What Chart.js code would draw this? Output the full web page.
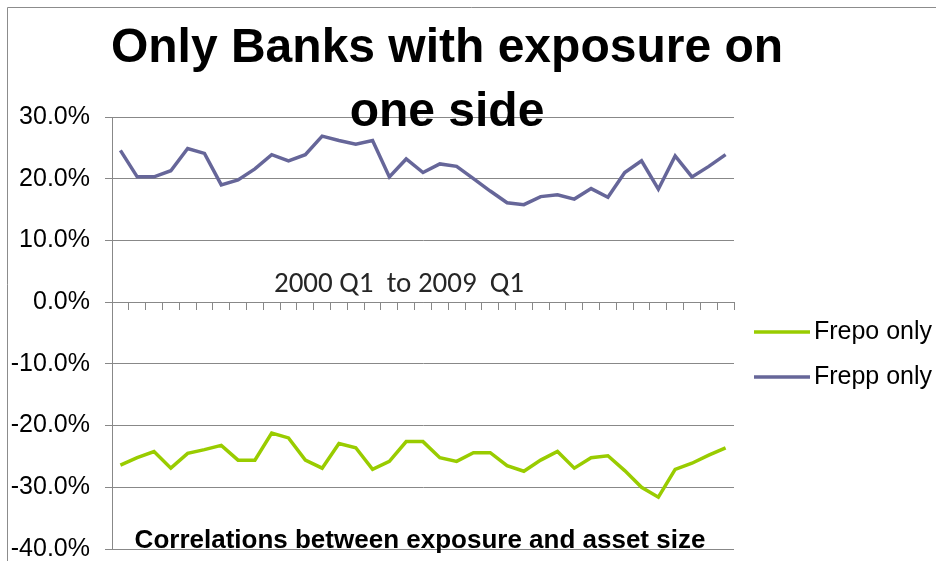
<!DOCTYPE html>
<html>
<head>
<meta charset="utf-8">
<script src="https://cdn.jsdelivr.net/npm/chart.js"></script>
<style>
  html, body { margin: 0; padding: 0; background: #ffffff; }
  canvas { display: block; }
</style>
</head>
<body>
<canvas id="chart" width="936" height="561"></canvas>
<script>
// Quarterly observations, 2000 Q1 through 2009 Q1
const quarters = [
  '2000 Q1', '2000 Q2', '2000 Q3', '2000 Q4',
  '2001 Q1', '2001 Q2', '2001 Q3', '2001 Q4',
  '2002 Q1', '2002 Q2', '2002 Q3', '2002 Q4',
  '2003 Q1', '2003 Q2', '2003 Q3', '2003 Q4',
  '2004 Q1', '2004 Q2', '2004 Q3', '2004 Q4',
  '2005 Q1', '2005 Q2', '2005 Q3', '2005 Q4',
  '2006 Q1', '2006 Q2', '2006 Q3', '2006 Q4',
  '2007 Q1', '2007 Q2', '2007 Q3', '2007 Q4',
  '2008 Q1', '2008 Q2', '2008 Q3', '2008 Q4',
  '2009 Q1'
];

// Correlation (%) between exposure and asset size
const frepoOnly = [
  -26.4, -25.2, -24.2, -26.9, -24.5, -23.9, -23.2, -25.6, -25.6, -21.2,
  -22.0, -25.6, -26.9, -22.9, -23.6, -27.1, -25.8, -22.6, -22.6, -25.2,
  -25.8, -24.4, -24.4, -26.5, -27.4, -25.6, -24.2, -26.9, -25.2, -24.9,
  -27.3, -30.0, -31.6, -27.1, -26.1, -24.8, -23.6
];
const freppOnly = [
  24.6, 20.3, 20.3, 21.3, 24.9, 24.1, 19.0, 19.8, 21.6, 23.9,
  22.9, 23.9, 26.9, 26.2, 25.6, 26.2, 20.3, 23.2, 21.0, 22.4,
  22.0, 20.0, 18.0, 16.1, 15.8, 17.1, 17.4, 16.7, 18.4, 17.0,
  21.0, 22.9, 18.3, 23.7, 20.3, 22.0, 23.9
];

const seriesNames = ['Frepo only', 'Frepp only'];
const yRange = [-40, 30];
const yStep = 10;

const titleLines = ['Only Banks with exposure on', 'one side'];
const periodNote = '2000 Q1  to 2009  Q1';
const axisCaption = 'Correlations between exposure and asset size';

const ARIAL = '"Liberation Sans", Arial, Helvetica, sans-serif';
Chart.defaults.font.family = ARIAL;
Chart.defaults.color = '#000000';

// Frame, big title and the in-plot captions
const decorations = {
  id: 'decorations',
  beforeDraw(chart) {
    const ctx = chart.ctx;
    ctx.save();
    ctx.fillStyle = '#ffffff';
    ctx.fillRect(0, 0, chart.width, chart.height);
    ctx.strokeStyle = '#8c8c8c';
    ctx.lineWidth = 1;
    ctx.beginPath();
    ctx.moveTo(7.5, chart.height);
    ctx.lineTo(7.5, 7.5);
    ctx.lineTo(chart.width, 7.5);
    ctx.stroke();
    ctx.restore();
  },
  afterDraw(chart) {
    const ctx = chart.ctx;
    ctx.save();
    ctx.textAlign = 'center';
    ctx.textBaseline = 'alphabetic';
    ctx.fillStyle = '#000000';
    ctx.font = 'bold 48px ' + ARIAL;
    ctx.fillText(titleLines[0], 447, 62);
    ctx.fillText(titleLines[1], 447, 126);

    ctx.font = '29px Carlito, Lato, sans-serif';
    ctx.fillStyle = '#262626';
    ctx.textBaseline = 'middle';
    ctx.fillText(periodNote, 399, 285);

    ctx.font = 'bold 26px ' + ARIAL;
    ctx.fillStyle = '#000000';
    ctx.textBaseline = 'alphabetic';
    ctx.fillText(axisCaption, 420, 548);
    ctx.restore();
  }
};

new Chart(document.getElementById('chart'), {
  type: 'line',
  data: {
    labels: quarters,
    datasets: [
      {
        label: seriesNames[0],
        data: frepoOnly,
        borderColor: '#99CC00',
        backgroundColor: '#99CC00',
        borderWidth: 3.5,
        pointRadius: 0,
        tension: 0
      },
      {
        label: seriesNames[1],
        data: freppOnly,
        borderColor: '#666699',
        backgroundColor: '#666699',
        borderWidth: 3.5,
        pointRadius: 0,
        tension: 0
      }
    ]
  },
  options: {
    responsive: false,
    animation: false,
    devicePixelRatio: 1,
    layout: { padding: { top: 117, bottom: 12, left: 0, right: 4 } },
    plugins: {
      legend: {
        position: 'right',
        align: 'center',
        maxWidth: 198,
        title: { display: true, text: '', padding: { top: 0, bottom: 13 }, font: { size: 25 } },
        labels: {
          usePointStyle: true,
          pointStyle: 'line',
          pointStyleWidth: 56,
          padding: 20,
          textAlign: 'right',
          color: '#000000',
          font: { family: ARIAL, size: 25 }
        }
      },
      tooltip: { enabled: false }
    },
    scales: {
      x: {
        position: { y: 0 },
        offset: true,
        ticks: { display: false },
        grid: {
          offset: true,
          drawOnChartArea: false,
          drawTicks: true,
          tickLength: 7,
          color: '#888888'
        },
        border: { color: '#888888' }
      },
      y: {
        min: yRange[0],
        max: yRange[1],
        ticks: {
          stepSize: yStep,
          padding: 15,
          color: '#000000',
          font: { family: ARIAL, size: 25, lineHeight: 1 },
          callback: (v) => v.toFixed(1) + '%'
        },
        grid: { color: '#888888', tickLength: 7 },
        border: { color: '#888888' },
        afterFit: (scale) => {
          scale.width = 112;
          scale.paddingTop = 12;
          scale.paddingBottom = 12;
        }
      }
    }
  },
  plugins: [decorations]
});
</script>
</body>
</html>
